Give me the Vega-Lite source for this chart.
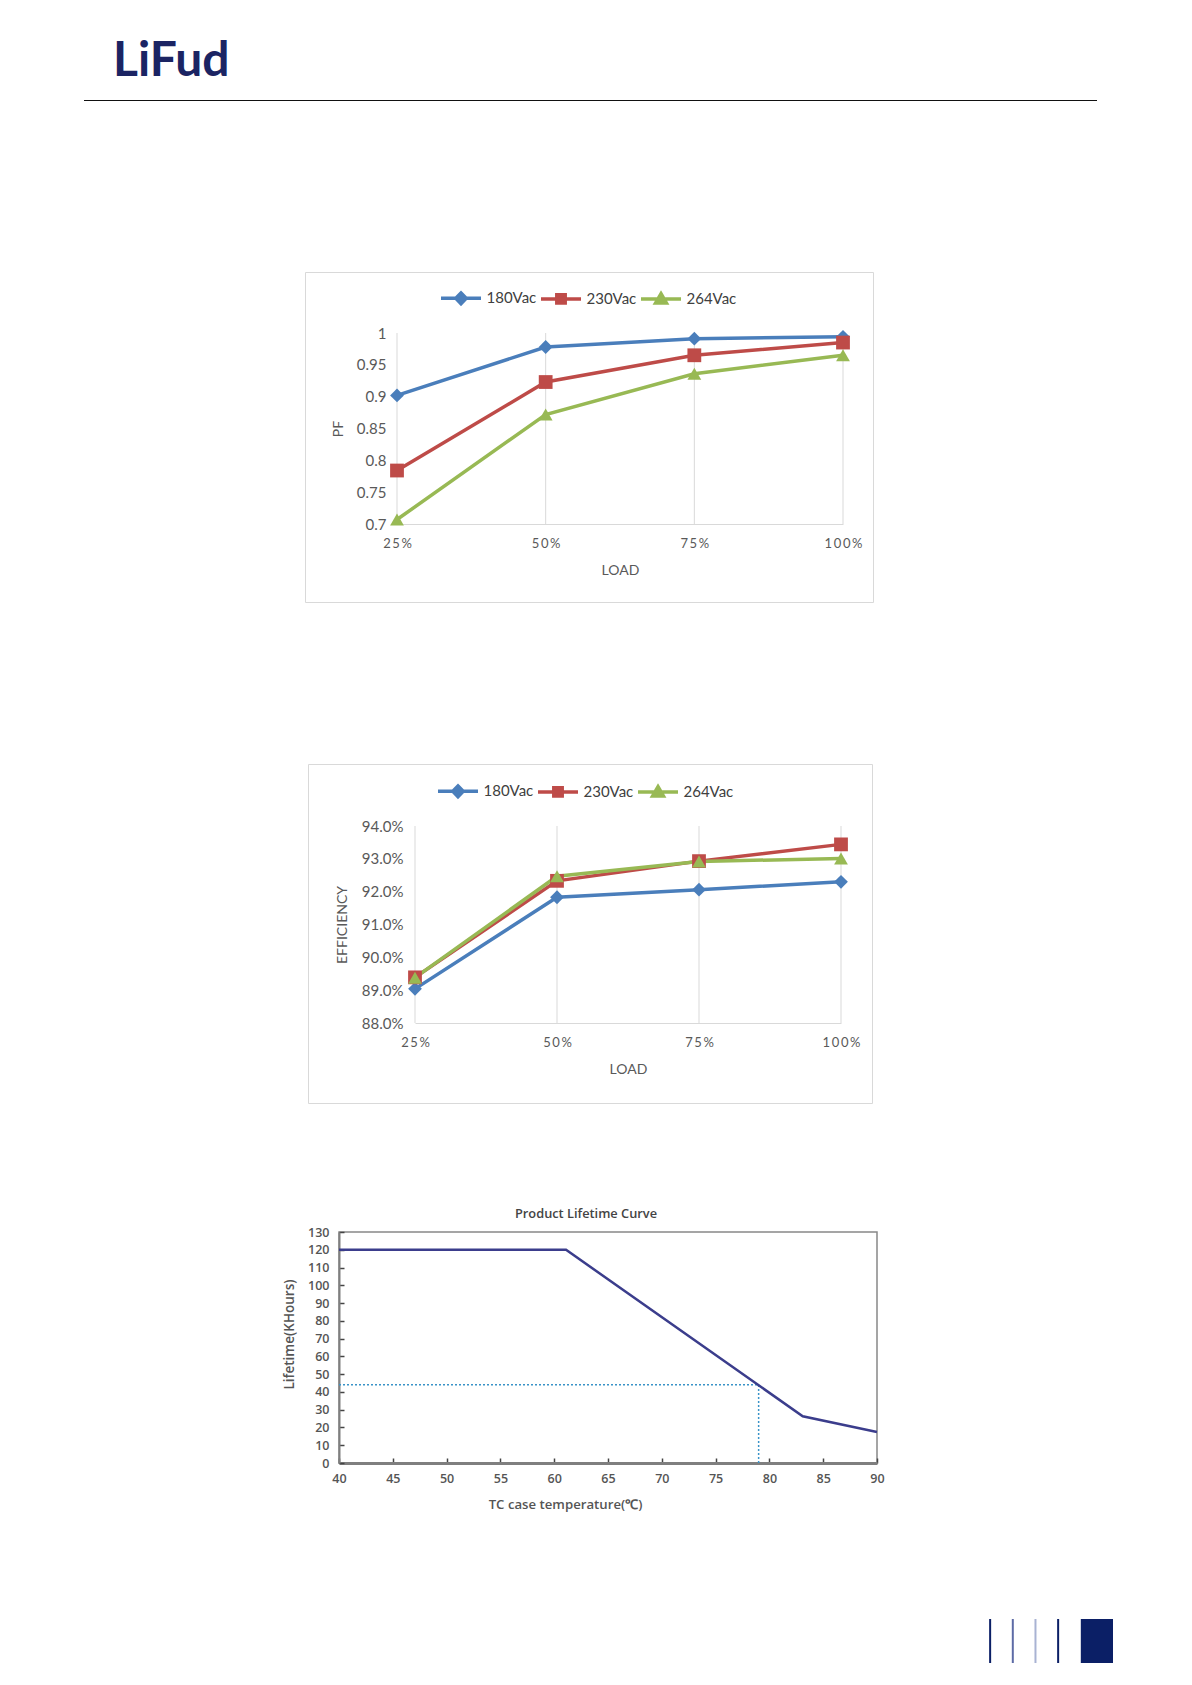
{
  "$schema": "https://vega.github.io/schema/vega-lite/v6.json",
  "background": "white",
  "padding": {"top": 37, "left": 0, "right": 0, "bottom": 0},
  "config": {"font": "Lato", "view": {"stroke": null}, "concat": {"spacing": 0}, "axis": {"labelOverlap": false}},
  "spacing": 0,
  "resolve": {"scale": {"color": "independent", "shape": "independent"}},
  "vconcat": [
    {
      "spacing": 0,
      "hconcat": [
        {"width": 84, "height": 171, "data": {"values": [{}]}, "mark": {"type": "point", "opacity": 0}},
        {
          "width": 1013,
          "height": 1,
          "view": {"fill": "#111111", "stroke": null},
          "title": {"text": "LiFud", "anchor": "start", "fontSize": 48, "fontWeight": "bold", "font": "Lato", "color": "#1b2463", "offset": 12, "dx": 29},
          "data": {"values": [{}]},
          "mark": {"type": "point", "opacity": 0}
        }
      ]
    },
    {
      "spacing": 0,
      "resolve": {"scale": {"color": "independent", "shape": "independent"}},
      "hconcat": [
        {"width": 304, "height": 491, "data": {"values": [{}]}, "mark": {"type": "point", "opacity": 0}},
        {
          "width": 568,
          "height": 330,
          "view": {"stroke": "#d9d9d9", "fill": "white"},
          "data": {
            "values": [
              {"series": "180Vac", "load": "25%", "pf": 0.902},
              {"series": "180Vac", "load": "50%", "pf": 0.978},
              {"series": "180Vac", "load": "75%", "pf": 0.991},
              {"series": "180Vac", "load": "100%", "pf": 0.994},
              {"series": "230Vac", "load": "25%", "pf": 0.784},
              {"series": "230Vac", "load": "50%", "pf": 0.923},
              {"series": "230Vac", "load": "75%", "pf": 0.965},
              {"series": "230Vac", "load": "100%", "pf": 0.985},
              {"series": "264Vac", "load": "25%", "pf": 0.707},
              {"series": "264Vac", "load": "50%", "pf": 0.872},
              {"series": "264Vac", "load": "75%", "pf": 0.936},
              {"series": "264Vac", "load": "100%", "pf": 0.965}
            ]
          },
          "encoding": {
            "x": {
              "field": "load",
              "type": "ordinal",
              "sort": ["25%", "50%", "75%", "100%"],
              "scale": {"type": "point", "range": [92, 538], "padding": 0},
              "axis": {
                "title": "LOAD", "offset": -78, "grid": false, "ticks": false,
                "domainColor": "#d9d9d9", "labelAngle": 0, "labelFontSize": 13, "labelColor": "#595959",
                "labelPadding": 13, "labelExpr": "join(split(datum.label, ''), '\u2009')",
                "titleFontSize": 14, "titleFontWeight": "normal", "titleColor": "#595959", "titlePadding": 13
              }
            },
            "y": {
              "field": "pf",
              "type": "quantitative",
              "scale": {"domain": [0.7, 1], "range": [252, 61], "nice": false, "zero": false},
              "axis": {
                "title": "PF", "offset": -92, "values": [0.7, 0.75, 0.8, 0.85, 0.9, 0.95, 1], "format": "~g",
                "domain": false, "ticks": false, "grid": false, "labelFontSize": 15, "labelColor": "#595959",
                "labelPadding": 11, "titleFontSize": 14, "titleFontWeight": "normal", "titleColor": "#595959", "titlePadding": 11
              }
            }
          },
          "layer": [
            {
              "transform": [{"filter": "datum.series === '180Vac'"}],
              "mark": {"type": "rule", "strokeWidth": 1, "color": "#d9d9d9"},
              "encoding": {"y": {"datum": 0.7}, "y2": {"datum": 1}}
            },
            {
              "transform": [{"filter": "datum.series === '180Vac'"}],
              "mark": {"type": "point", "filled": true, "opacity": 1, "size": 190, "shape": "diamond"},
              "encoding": {
                "color": {
                  "field": "series",
                  "type": "nominal",
                  "scale": {"domain": ["180Vac", "230Vac", "264Vac"], "range": ["#4a7ebb", "#be4b48", "#98b954"]},
                  "legend": {
                    "orient": "none", "legendX": 134, "legendY": 4, "direction": "horizontal", "title": null,
                    "labelFontSize": 15, "labelColor": "#404040", "symbolSize": 1600, "labelOffset": 3.5, "columnPadding": -3,
                    "symbolOpacity": 1, "symbolStrokeWidth": 3.5,
                    "symbolType": {"expr": "datum.value === '180Vac' ? 'M-1,0H1M0,-0.27L0.26,0L0,0.27L-0.26,0Z' : datum.value === '230Vac' ? 'M-1,0H1M-0.21,-0.21H0.21V0.21H-0.21Z' : 'M-1,0H1M0,-0.26L0.27,0.21H-0.27Z'"},
                    "symbolStrokeColor": {"expr": "datum.value === '180Vac' ? '#4a7ebb' : datum.value === '230Vac' ? '#be4b48' : '#98b954'"}
                  }
                }
              }
            },
            {
              "mark": {"type": "line", "strokeWidth": 3.5},
              "encoding": {
                "color": {
                  "field": "series",
                  "type": "nominal",
                  "scale": {"domain": ["180Vac", "230Vac", "264Vac"], "range": ["#4a7ebb", "#be4b48", "#98b954"]},
                  "legend": {
                    "orient": "none", "legendX": 134, "legendY": 4, "direction": "horizontal", "title": null,
                    "labelFontSize": 15, "labelColor": "#404040", "symbolSize": 1600, "labelOffset": 3.5, "columnPadding": -3,
                    "symbolOpacity": 1, "symbolStrokeWidth": 3.5,
                    "symbolType": {"expr": "datum.value === '180Vac' ? 'M-1,0H1M0,-0.27L0.26,0L0,0.27L-0.26,0Z' : datum.value === '230Vac' ? 'M-1,0H1M-0.21,-0.21H0.21V0.21H-0.21Z' : 'M-1,0H1M0,-0.26L0.27,0.21H-0.27Z'"},
                    "symbolStrokeColor": {"expr": "datum.value === '180Vac' ? '#4a7ebb' : datum.value === '230Vac' ? '#be4b48' : '#98b954'"}
                  }
                }
              }
            },
            {
              "transform": [{"filter": "datum.series === '230Vac'"}],
              "mark": {"type": "point", "filled": true, "opacity": 1, "size": 190, "shape": "square", "color": "#be4b48"}
            },
            {
              "transform": [{"filter": "datum.series === '264Vac'"}],
              "mark": {"type": "point", "filled": true, "opacity": 1, "size": 190, "shape": "triangle-up", "color": "#98b954"}
            }
          ]
        }
      ]
    },
    {
      "spacing": 0,
      "resolve": {"scale": {"color": "independent", "shape": "independent"}},
      "hconcat": [
        {"width": 307, "height": 443, "data": {"values": [{}]}, "mark": {"type": "point", "opacity": 0}},
        {
          "width": 564,
          "height": 339,
          "view": {"stroke": "#d9d9d9", "fill": "white"},
          "data": {
            "values": [
              {"series": "180Vac", "load": "25%", "eff": 89.04},
              {"series": "180Vac", "load": "50%", "eff": 91.83},
              {"series": "180Vac", "load": "75%", "eff": 92.06},
              {"series": "180Vac", "load": "100%", "eff": 92.3},
              {"series": "230Vac", "load": "25%", "eff": 89.39},
              {"series": "230Vac", "load": "50%", "eff": 92.33},
              {"series": "230Vac", "load": "75%", "eff": 92.93},
              {"series": "230Vac", "load": "100%", "eff": 93.44},
              {"series": "264Vac", "load": "25%", "eff": 89.38},
              {"series": "264Vac", "load": "50%", "eff": 92.47},
              {"series": "264Vac", "load": "75%", "eff": 92.92},
              {"series": "264Vac", "load": "100%", "eff": 93.01}
            ]
          },
          "encoding": {
            "x": {
              "field": "load",
              "type": "ordinal",
              "sort": ["25%", "50%", "75%", "100%"],
              "scale": {"type": "point", "range": [107, 533], "padding": 0},
              "axis": {
                "title": "LOAD", "offset": -80, "grid": false, "ticks": false,
                "domainColor": "#d9d9d9", "labelAngle": 0, "labelFontSize": 13, "labelColor": "#595959",
                "labelPadding": 13, "labelExpr": "join(split(datum.label, ''), '\u2009')",
                "titleFontSize": 14, "titleFontWeight": "normal", "titleColor": "#595959", "titlePadding": 13
              }
            },
            "y": {
              "field": "eff",
              "type": "quantitative",
              "scale": {"domain": [88, 94], "range": [259, 62], "nice": false, "zero": false},
              "axis": {
                "title": "EFFICIENCY", "offset": -107, "values": [88, 89, 90, 91, 92, 93, 94],
                "labelExpr": "format(datum.value, '.1f') + '%'",
                "domain": false, "ticks": false, "grid": false, "labelFontSize": 15, "labelColor": "#595959",
                "labelPadding": 12, "titleFontSize": 14, "titleFontWeight": "normal", "titleColor": "#595959", "titlePadding": 12
              }
            }
          },
          "layer": [
            {
              "transform": [{"filter": "datum.series === '180Vac'"}],
              "mark": {"type": "rule", "strokeWidth": 1, "color": "#d9d9d9"},
              "encoding": {"y": {"datum": 88}, "y2": {"datum": 94}}
            },
            {
              "transform": [{"filter": "datum.series === '180Vac'"}],
              "mark": {"type": "point", "filled": true, "opacity": 1, "size": 190, "shape": "diamond"},
              "encoding": {
                "color": {
                  "field": "series",
                  "type": "nominal",
                  "scale": {"domain": ["180Vac", "230Vac", "264Vac"], "range": ["#4a7ebb", "#be4b48", "#98b954"]},
                  "legend": {
                    "orient": "none", "legendX": 128, "legendY": 5, "direction": "horizontal", "title": null,
                    "labelFontSize": 15, "labelColor": "#404040", "symbolSize": 1600, "labelOffset": 3.5, "columnPadding": -3,
                    "symbolOpacity": 1, "symbolStrokeWidth": 3.5,
                    "symbolType": {"expr": "datum.value === '180Vac' ? 'M-1,0H1M0,-0.27L0.26,0L0,0.27L-0.26,0Z' : datum.value === '230Vac' ? 'M-1,0H1M-0.21,-0.21H0.21V0.21H-0.21Z' : 'M-1,0H1M0,-0.26L0.27,0.21H-0.27Z'"},
                    "symbolStrokeColor": {"expr": "datum.value === '180Vac' ? '#4a7ebb' : datum.value === '230Vac' ? '#be4b48' : '#98b954'"}
                  }
                }
              }
            },
            {
              "mark": {"type": "line", "strokeWidth": 3.5},
              "encoding": {
                "color": {
                  "field": "series",
                  "type": "nominal",
                  "scale": {"domain": ["180Vac", "230Vac", "264Vac"], "range": ["#4a7ebb", "#be4b48", "#98b954"]},
                  "legend": {
                    "orient": "none", "legendX": 128, "legendY": 5, "direction": "horizontal", "title": null,
                    "labelFontSize": 15, "labelColor": "#404040", "symbolSize": 1600, "labelOffset": 3.5, "columnPadding": -3,
                    "symbolOpacity": 1, "symbolStrokeWidth": 3.5,
                    "symbolType": {"expr": "datum.value === '180Vac' ? 'M-1,0H1M0,-0.27L0.26,0L0,0.27L-0.26,0Z' : datum.value === '230Vac' ? 'M-1,0H1M-0.21,-0.21H0.21V0.21H-0.21Z' : 'M-1,0H1M0,-0.26L0.27,0.21H-0.27Z'"},
                    "symbolStrokeColor": {"expr": "datum.value === '180Vac' ? '#4a7ebb' : datum.value === '230Vac' ? '#be4b48' : '#98b954'"}
                  }
                }
              }
            },
            {
              "transform": [{"filter": "datum.series === '230Vac'"}],
              "mark": {"type": "point", "filled": true, "opacity": 1, "size": 190, "shape": "square", "color": "#be4b48"}
            },
            {
              "transform": [{"filter": "datum.series === '264Vac'"}],
              "mark": {"type": "point", "filled": true, "opacity": 1, "size": 190, "shape": "triangle-up", "color": "#98b954"}
            }
          ]
        }
      ]
    },
    {
      "spacing": 0,
      "hconcat": [
        {"width": 281, "height": 384, "data": {"values": [{}]}, "mark": {"type": "point", "opacity": 0}},
        {
          "width": 538,
          "height": 231,
          "view": {"stroke": "#888888", "strokeWidth": 1.5},
          "title": {"text": "Product Lifetime Curve", "font": "Open Sans", "fontSize": 12.8, "fontWeight": 600, "color": "#444444", "offset": 5, "dx": -22},
          "encoding": {
            "x": {
              "field": "temp",
              "type": "quantitative",
              "title": "TC case temperature(℃)",
              "scale": {"domain": [40, 90], "nice": false, "zero": false},
              "axis": {
                "values": [40, 45, 50, 55, 60, 65, 70, 75, 80, 85, 90], "grid": false, "labelFlush": false, "labelOverlap": false,
                "domainColor": "#7f7f7f", "domainWidth": 3, "tickColor": "#444444", "tickSize": -5, "tickWidth": 1.5,
                "labelFont": "Open Sans", "labelFontSize": 12.5, "labelFontWeight": 600, "labelColor": "#555555", "labelPadding": 14,
                "titleFont": "Open Sans", "titleFontSize": 13.2, "titleFontWeight": 600, "titleColor": "#555555",
                "titlePadding": 14, "titleX": 226
              }
            },
            "y": {
              "field": "life",
              "type": "quantitative",
              "title": "Lifetime(KHours)",
              "scale": {"domain": [0, 130], "nice": false},
              "axis": {
                "values": [0, 10, 20, 30, 40, 50, 60, 70, 80, 90, 100, 110, 120, 130], "grid": false, "labelOverlap": false,
                "domain": true, "domainColor": "#7f7f7f", "domainWidth": 2,
                "tickColor": "#444444", "tickSize": -5, "tickWidth": 1.5, "labelFont": "Open Sans", "labelFontSize": 12.5, "labelFontWeight": 600,
                "labelColor": "#555555", "labelPadding": 15, "titleFont": "Open Sans", "titleFontSize": 13.5,
                "titleFontWeight": 600, "titleColor": "#555555", "titlePadding": 11, "titleY": 102
              }
            }
          },
          "layer": [
            {
              "data": {
                "values": [
                  {"temp": 40, "temp_end": 79, "life": 44, "life_end": 44},
                  {"temp": 79, "temp_end": 79, "life": 0, "life_end": 44}
                ]
              },
              "mark": {"type": "rule", "color": "#3a93c8", "strokeWidth": 1.5, "strokeDash": [2, 2]},
              "encoding": {"x2": {"field": "temp_end"}, "y2": {"field": "life_end"}}
            },
            {
              "data": {
                "values": [
                  {"temp": 40, "life": 120},
                  {"temp": 61.1, "life": 120},
                  {"temp": 83.1, "life": 26.3},
                  {"temp": 90, "life": 17.5}
                ]
              },
              "mark": {"type": "line", "color": "#3b3d8c", "strokeWidth": 2.5}
            }
          ]
        }
      ]
    },
    {
      "spacing": 0,
      "hconcat": [
        {"width": 989, "height": 1, "data": {"values": [{}]}, "mark": {"type": "point", "opacity": 0}},
        {
          "width": 124,
          "height": 44,
          "layer": [
            {
              "data": {"values": [{"k": 0, "tone": "dark"}, {"k": 1, "tone": "mid"}, {"k": 2, "tone": "light"}, {"k": 3, "tone": "dark"}]},
              "mark": {"type": "rule", "strokeWidth": 2},
              "encoding": {
                "x": {"field": "k", "type": "quantitative", "scale": {"domain": [-0.05, 5.42], "nice": false, "zero": false}, "axis": null},
                "color": {"field": "tone", "type": "nominal", "scale": {"domain": ["dark", "mid", "light"], "range": ["#0b1f66", "#5d6ba6", "#a9b3d3"]}, "legend": null}
              }
            },
            {
              "data": {"values": [{"k": 4, "k_end": 5.42}]},
              "mark": {"type": "rect", "color": "#0b1f66"},
              "encoding": {"x": {"field": "k", "type": "quantitative", "axis": null}, "x2": {"field": "k_end"}}
            }
          ]
        }
      ]
    }
  ]
}
